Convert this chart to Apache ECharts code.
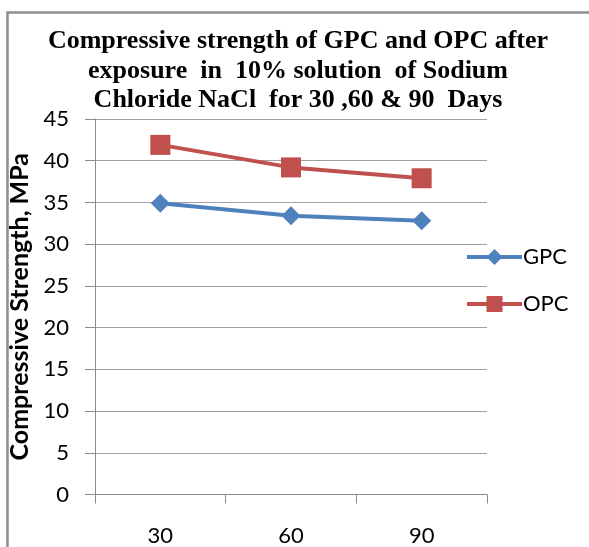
<!DOCTYPE html>
<html>
<head>
<meta charset="utf-8">
<script src="https://cdn.jsdelivr.net/npm/echarts@6/dist/echarts.min.js"></script>
<style>html,body{margin:0;padding:0;background:#fff}#c{width:589px;height:547px}</style>
</head>
<body>
<div id="c"></div>
<script>
const titleLines = [
  "Compressive strength of GPC and OPC after",
  "exposure  in  10% solution  of Sodium",
  "Chloride NaCl  for 30 ,60 & 90  Days"
];
const categories = ["30", "60", "90"];
const gpcValues = [34.9, 33.4, 32.8];
const opcValues = [41.9, 39.2, 37.9];
const yAxisName = "Compressive Strength, MPa";
const seriesNames = ["GPC", "OPC"];

const chart = echarts.init(document.getElementById('c'), null, {renderer: 'canvas'});
const labelFont = "Lato, 'Open Sans', sans-serif";
chart.setOption({
  animation: false,
  backgroundColor: '#fff',
  graphic: [{
    type: 'rect', left: 5, top: 10, shape: {width: 700, height: 700},
    style: {fill: 'none', stroke: '#8f8f8f', lineWidth: 2.5}, z: -1
  }],
  title: {
    text: titleLines.join('\n'),
    left: 293, textAlign: 'center', top: 22,
    textStyle: {
      fontFamily: "'Liberation Serif', 'Times New Roman', serif",
      fontWeight: 'bold', fontSize: 26, lineHeight: 29.5, color: '#000'
    }
  },
  grid: {left: 95, right: 102, top: 119, bottom: 52.5, containLabel: false, outerBoundsMode: 'none'},
  legend: {
    orient: 'vertical', left: 460, top: 241, itemGap: 25,
    itemWidth: 55, itemHeight: 20,
    lineStyle: {width: 4},
    textStyle: {fontFamily: labelFont, fontSize: 22, color: '#000', padding: [0,0,0,-4]},
    data: seriesNames
  },
  xAxis: {
    type: 'category', data: categories, boundaryGap: true,
    axisLine: {lineStyle: {color: '#8c8c8c', width: 1}},
    axisTick: {show: true, length: 9, lineStyle: {color: '#8c8c8c'}},
    axisLabel: {margin: 30, fontFamily: labelFont, fontSize: 22, color: '#000'}
  },
  yAxis: {
    type: 'value', min: 0, max: 45, interval: 5,
    name: yAxisName, nameLocation: 'middle', nameGap: 57, nameRotate: 90,
    nameTextStyle: {fontFamily: labelFont, fontWeight: 'bold', fontSize: 25, color: '#000'},
    axisLine: {show: true, lineStyle: {color: '#8c8c8c', width: 1}},
    axisTick: {show: true, length: 10, lineStyle: {color: '#8c8c8c'}},
    splitLine: {lineStyle: {color: '#a0a0a0', width: 1}},
    axisLabel: {margin: 26, fontFamily: labelFont, fontSize: 22, color: '#000'}
  },
  series: [
    {name: seriesNames[0], type: 'line', data: gpcValues, symbol: 'diamond', symbolSize: 19,
     itemStyle: {color: '#4F81BD'}, lineStyle: {width: 4, color: '#4F81BD'}},
    {name: seriesNames[1], type: 'line', data: opcValues, symbol: 'rect', symbolSize: 20,
     itemStyle: {color: '#C0504D'}, lineStyle: {width: 4, color: '#C0504D'}}
  ]
});
</script>
</body>
</html>
